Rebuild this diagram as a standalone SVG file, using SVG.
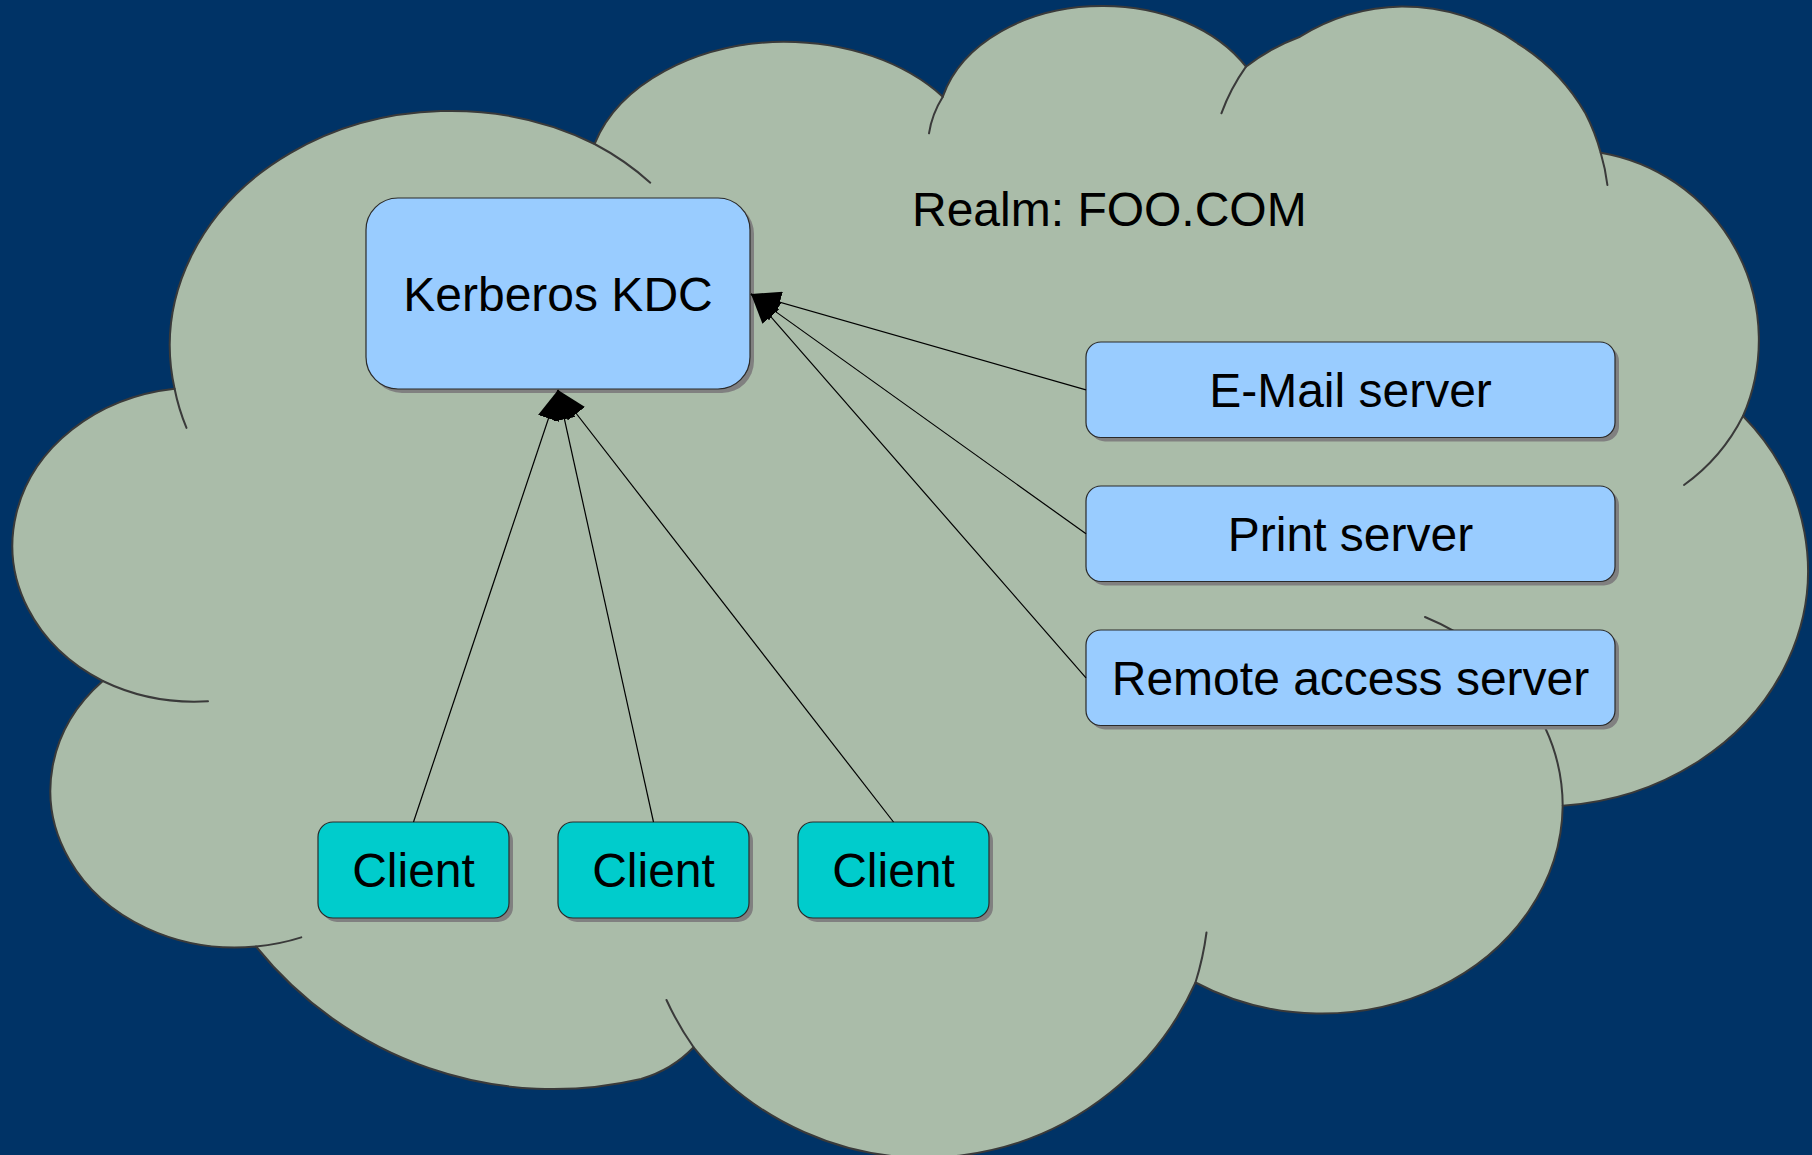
<svg xmlns="http://www.w3.org/2000/svg" width="1812" height="1155" viewBox="0 0 1812 1155">
<defs>
<style>
.cloud{fill:#aabca9;stroke:#3a3a3a;stroke-width:2;stroke-linejoin:round}
.arc{fill:none;stroke:#3a3a3a;stroke-width:2;stroke-linecap:round}
.shadow{fill:#808080}
.box{stroke:#2a2a2a;stroke-width:1.2}
.server{fill:#99ccff}
.client{fill:#00cccc}
.label{font-family:"Liberation Sans",Arial,sans-serif;font-size:48px;fill:#000}
.mid{text-anchor:middle}
.conn{stroke:#000;stroke-width:1.2;fill:none;marker-end:url(#arrow)}
</style>
<marker id="arrow" markerUnits="userSpaceOnUse" viewBox="0 0 30 22" refX="30" refY="11" markerWidth="30" markerHeight="22" orient="auto">
<path d="M0,0 L30,11 L0,22 Z" fill="#000"/>
</marker>
</defs>
<rect x="0" y="0" width="1812" height="1155" fill="#003366"/>
<g id="cloud">
<path class="cloud" d="M174.6,388.8 A281,235 0 0 1 594.6,144 A200,140 0 0 1 783.6,41.7 A200,140 0 0 1 942.8,96.7 A164,120 0 0 1 1102,6 A164,120 0 0 1 1246,66.7 A200,200 0 0 1 1300,36.7 A200,200 0 0 1 1402,6.5 A200,200 0 0 1 1517.5,43.3 A200,200 0 0 1 1585.4,113.3 A200,200 0 0 1 1600.7,152.7 A190,190 0 0 1 1743,416 A266,236 0 0 1 1562.7,805.8 A241,210 0 0 1 1195.5,982.5 A297,297 0 0 1 693.6,1047.3 Q672,1070 641,1079 A382,382 0 0 1 256,946.5 A185,157 0 0 1 102.8,681 A186,158 0 0 1 174.6,388.8 Z"/>
<path class="arc" d="M174.6,388.8 A281,235 0 0 0 186.5,427.9"/>
<path class="arc" d="M102.8,681 A186,158 0 0 0 208,701.3"/>
<path class="arc" d="M256,946.5 A185,157 0 0 0 301.3,937.4"/>
<path class="arc" d="M693.6,1047.3 A297,297 0 0 1 666.5,1000"/>
<path class="arc" d="M1195.5,982.5 A297,297 0 0 0 1206.5,932.5"/>
<path class="arc" d="M1562.7,805.8 A241,210 0 0 0 1425,617"/>
<path class="arc" d="M1743,416 A190,190 0 0 1 1684,485"/>
<path class="arc" d="M1600.7,152.7 A200,200 0 0 1 1607.4,185"/>
<path class="arc" d="M1246,66.7 A200,200 0 0 0 1221.4,113.3"/>
<path class="arc" d="M942.8,96.7 A164,120 0 0 0 929,133.3"/>
<path class="arc" d="M594.6,144 A281,235 0 0 1 650.3,182.7"/>
<text class="label" x="912" y="226">Realm: FOO.COM</text>
</g>
<g id="kdc">
<rect class="shadow" x="370" y="202" width="384" height="191" rx="32"/>
<rect class="box server" x="366" y="198" width="384" height="191" rx="32"/>
<text class="label mid" x="558" y="311">Kerberos KDC</text>
</g>
<g id="email">
<rect class="shadow" x="1090" y="346" width="529" height="95.5" rx="15"/>
<rect class="box server" x="1086" y="342" width="529" height="95.5" rx="15"/>
<text class="label mid" x="1350.5" y="406.8">E-Mail server</text>
</g>
<g id="print">
<rect class="shadow" x="1090" y="490" width="529" height="95.5" rx="15"/>
<rect class="box server" x="1086" y="486" width="529" height="95.5" rx="15"/>
<text class="label mid" x="1350.5" y="550.8">Print server</text>
</g>
<g id="remote">
<rect class="shadow" x="1090" y="634" width="529" height="95.5" rx="15"/>
<rect class="box server" x="1086" y="630" width="529" height="95.5" rx="15"/>
<text class="label mid" x="1350.5" y="694.8">Remote access server</text>
</g>
<g id="client1">
<rect class="shadow" x="322" y="826" width="191" height="96" rx="15"/>
<rect class="box client" x="318" y="822" width="191" height="96" rx="15"/>
<text class="label mid" x="413.5" y="887">Client</text>
</g>
<g id="client2">
<rect class="shadow" x="562" y="826" width="191" height="96" rx="15"/>
<rect class="box client" x="558" y="822" width="191" height="96" rx="15"/>
<text class="label mid" x="653.5" y="887">Client</text>
</g>
<g id="client3">
<rect class="shadow" x="802" y="826" width="191" height="96" rx="15"/>
<rect class="box client" x="798" y="822" width="191" height="96" rx="15"/>
<text class="label mid" x="893.5" y="887">Client</text>
</g>
<g id="connectors">
<line class="conn" x1="413.5" y1="822" x2="558" y2="390"/>
<line class="conn" x1="653.5" y1="822" x2="558" y2="390"/>
<line class="conn" x1="893.5" y1="822" x2="558" y2="390"/>
<line class="conn" x1="1086" y1="389.8" x2="751" y2="294"/>
<line class="conn" x1="1086" y1="533.8" x2="751" y2="294"/>
<line class="conn" x1="1086" y1="677.8" x2="751" y2="294"/>
</g>
</svg>
